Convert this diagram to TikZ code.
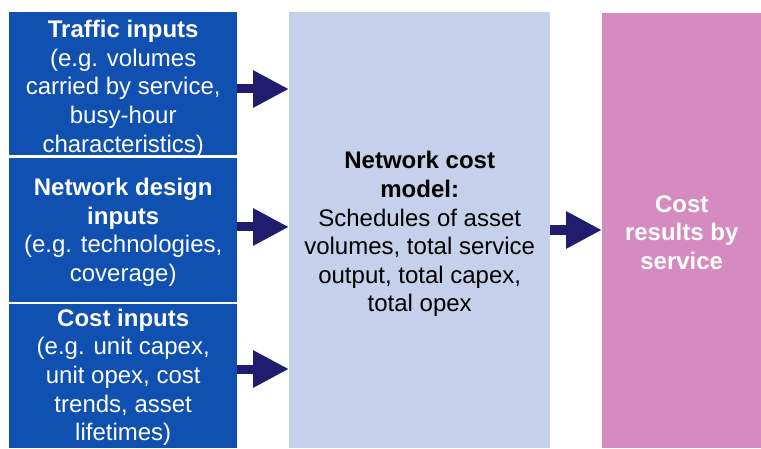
\documentclass[tikz,border=0pt]{standalone}
\usepackage{fontspec}
\setmainfont{Liberation Sans}
\usetikzlibrary{arrows.meta}
\definecolor{inblue}{HTML}{1050B0}
\definecolor{midblue}{HTML}{C5D0EA}
\definecolor{pinkbox}{HTML}{D58BBF}
\definecolor{navy}{HTML}{221C6E}
\begin{document}
\begin{tikzpicture}[x=1pt,y=1pt,
  box/.style={inner sep=0pt, anchor=north west},
  inbox/.style={box, fill=inblue, minimum width=228pt, minimum height=144pt},
  txt/.style={inner sep=0pt, align=center, font=\fontsize{24}{28.6}\selectfont},
  conn/.style={draw=navy, line width=9pt, -{Triangle[length=36pt,width=35pt]}}]
\useasboundingbox (0,0) rectangle (761,448);
\node[inbox, minimum height=143pt] (traffic) at (9,436) {};
\node[inbox] (design) at (9,290) {};
\node[inbox] (cost) at (9,144) {};
\node[box, fill=midblue, minimum width=261pt, minimum height=436pt] (model) at (289,436) {};
\node[box, fill=pinkbox, minimum width=159pt, minimum height=435pt] (results) at (602,435) {};
\node[txt, text=white] (traffictxt) at ([yshift=-5pt]traffic.center)
  {\textbf{Traffic inputs}\\(e.g. volumes\\carried by service,\\busy-hour\\characteristics)};
\node[txt, text=white] (designtxt) at ([yshift=-2pt]design.center)
  {\textbf{Network design}\\\textbf{inputs}\\(e.g. technologies,\\coverage)};
\node[txt, text=white] (costtxt) at ([yshift=-1pt]cost.center)
  {\textbf{Cost inputs}\\(e.g. unit capex,\\unit opex, cost\\trends, asset\\lifetimes)};
\node[txt, text=black] (modeltxt) at ([yshift=-4pt]model.center)
  {\textbf{Network cost}\\\textbf{model:}\\Schedules of asset\\volumes, total service\\output, total capex,\\total opex};
\node[txt, text=white] (resultstxt) at ([yshift=-2pt]results.center)
  {\textbf{Cost}\\\textbf{results by}\\\textbf{service}};
\draw[conn] (traffic.east |- 0,359) -- (model.west |- 0,359);
\draw[conn] (design.east |- 0,221) -- (model.west |- 0,221);
\draw[conn] (cost.east |- 0,79) -- (model.west |- 0,79);
\draw[conn] (model.east |- 0,218) -- (results.west |- 0,218);
\end{tikzpicture}
\end{document}
